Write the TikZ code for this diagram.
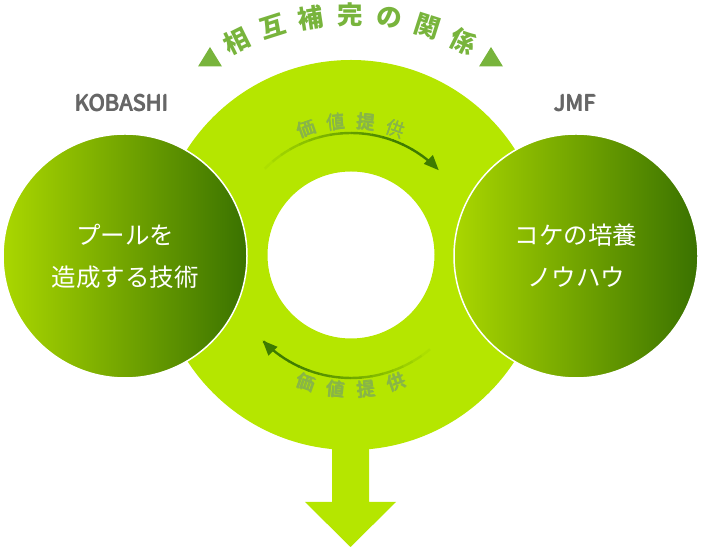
\documentclass[tikz,border=0pt]{standalone}
\usepackage{fontspec}
\newfontfamily\jp{Noto Sans CJK JP}
\newcommand\mymed[1]{\rlap{#1}\rlap{\raisebox{0.35pt}{\hspace{0.35pt}#1}}\hspace{0.7pt}#1}
\usetikzlibrary{arrows.meta,calc}
\definecolor{ringc}{HTML}{B5E600}
\definecolor{titlec}{HTML}{78B43C}
\definecolor{valc}{HTML}{88B548}
\definecolor{arrc}{HTML}{3E7B00}
\definecolor{gradl}{HTML}{AAD700}
\definecolor{gradr}{HTML}{3A7200}
\definecolor{grayc}{HTML}{666666}
\tikzset{
  partner/.style={circle, minimum size=244pt, inner sep=0pt, left color=gradl, right color=gradr, draw=white, line width=1.5pt, text=white, font=\jp\fontsize{24.5}{42}\selectfont, align=center},
  company/.style={text=grayc, font=\jp\fontsize{22}{24}\selectfont},
  titlechar/.style={text=titlec, font=\jp\bfseries\fontsize{25.5}{28}\selectfont, inner sep=0pt},
  valchar/.style={text=valc, font=\jp\fontsize{18.5}{20}\selectfont, inner sep=0pt},
  tri/.style={fill=titlec}
}
\begin{document}
\begin{tikzpicture}[x=1pt,y=1pt]
\useasboundingbox (0,0) rectangle (701,548);
\coordinate (rc) at (351,293);
\coordinate (tc) at (350,278);
% down arrow
\fill[ringc] (332,130) -- (332,46) -- (305,46) -- (350.5,1) -- (396,46) -- (369,46) -- (369,130) -- cycle;
% ring
\fill[ringc, even odd rule] (rc) circle[radius=195] (rc) circle[radius=83.5];
% partner circles
\node[partner] (kob) at (125,292) {プールを\\造成する技術};
\node[partner] (jmf) at (576,292) {コケの培養\\ノウハウ};
\node[company] (kobl) at (122,445) {\mymed{KOBASHI}};
\node[company] (jmfl) at (575,445) {\mymed{JMF}};
% title
\foreach \ch [count=\k] in {相,互,補,完,の,関,係}{
  \pgfmathsetmacro\ang{90+(4-\k)*8.8}
  \node[titlechar, rotate=\ang-90] (t\k) at ($(tc)+(\ang:255)$) {\ch};
}
\coordinate (trl) at (210,491);
\coordinate (trr) at (491,491);
\fill[tri] ([shift={(-12,-9.5)}]trl) -- ([shift={(12,-9.5)}]trl) -- ([shift={(0,10)}]trl) -- cycle;
\fill[tri] ([shift={(-12,-9.5)}]trr) -- ([shift={(12,-9.5)}]trr) -- ([shift={(0,10)}]trr) -- cycle;
% value texts top
\foreach \ch/\ang [count=\k] in {価/109.5,値/96.5,提/83.5,供/70.5}{
  \node[valchar, rotate=\ang-90] (vt\k) at ($(rc)+(\ang:134)$) {\mymed{\ch}};
}
\foreach \ch/\ang [count=\k] in {価/250.5,値/263.5,提/276.5,供/289.5}{
  \node[valchar, rotate=\ang-270] (vb\k) at ($(rc)+(\ang:135)$) {\mymed{\ch}};
}
% top arc arrow (fading in)
\foreach \i in {0,...,17}{
  \pgfmathsetmacro\a{140-\i*5}
  \pgfmathsetmacro\p{min(100,\i*7)}
  \draw[line width=2.4pt, color=arrc!\p!ringc] ($(rc)+(\a:122)$) arc[start angle=\a, end angle=\a-5.3, radius=122];
}
\draw[line width=2.4pt, arrc, -{Triangle[length=15pt,width=12pt]}] ($(rc)+(51:122)$) arc[start angle=51, end angle=44, radius=122];
% bottom arc arrow
\foreach \i in {0,...,17}{
  \pgfmathsetmacro\a{-45-\i*5}
  \pgfmathsetmacro\p{min(100,\i*7)}
  \draw[line width=2.4pt, color=arrc!\p!ringc] ($(rc)+(\a:123)$) arc[start angle=\a, end angle=\a-5.3, radius=123];
}
\draw[line width=2.4pt, arrc, -{Triangle[length=15pt,width=12pt]}] ($(rc)+(-129:123)$) arc[start angle=-129, end angle=-136, radius=123];
\end{tikzpicture}
\end{document}
